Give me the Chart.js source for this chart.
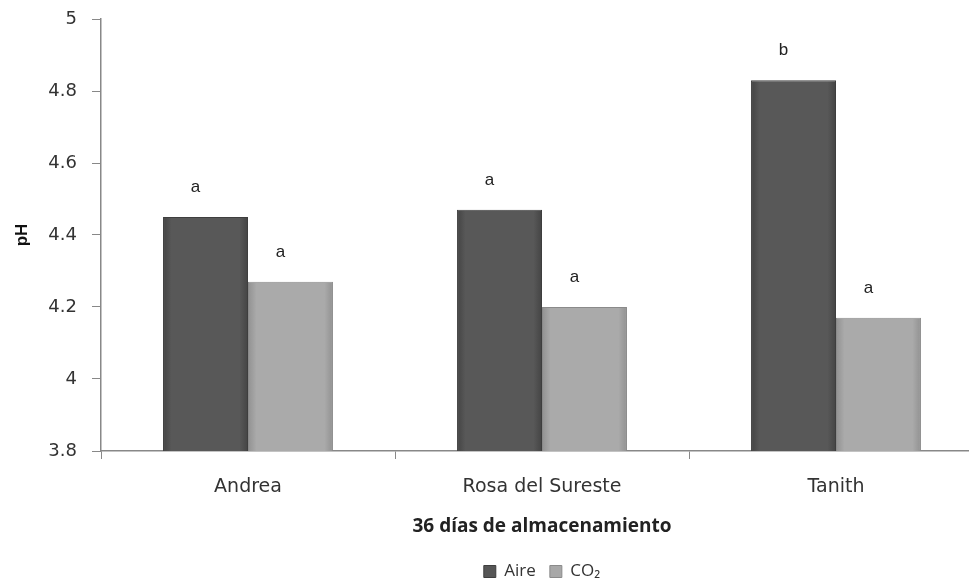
<!DOCTYPE html>
<html>
<head>
<meta charset="utf-8">
<script src="https://cdn.jsdelivr.net/npm/chart.js@4.4.0/dist/chart.umd.min.js"></script>
<style>
  html, body { margin: 0; padding: 0; background: #fff; overflow: hidden; }
  #wrap { position: relative; width: 990px; height: 590px; }
</style>
</head>
<body>
<div id="wrap"><canvas id="phChart"></canvas></div>
<script>
// datos
var variedades = ['Andrea', 'Rosa del Sureste', 'Tanith'];
var phAire = [4.45, 4.47, 4.83];
var phCO2 = [4.27, 4.20, 4.17];
var letrasAire = ['a', 'a', 'b'];
var letrasCO2 = ['a', 'a', 'a'];
var yMin = 3.8, yMax = 5, yPaso = 0.2;

// tonos de cada serie: borde, centro
var tonos = [['#444444', '#585858'], ['#919191', '#aaaaaa']];

// sombreado lateral de las barras (un objeto de opciones por barra)
var sombraPlugin = {
  id: 'sombra',
  beforeDatasetsDraw: function(chart) {
    var ctx = chart.ctx;
    chart.data.datasets.forEach(function(ds, di) {
      chart.getDatasetMeta(di).data.forEach(function(bar) {
        var g = ctx.createLinearGradient(bar.x - bar.width / 2, 0, bar.x + bar.width / 2, 0);
        g.addColorStop(0, tonos[di][0]);
        g.addColorStop(0.1, tonos[di][1]);
        g.addColorStop(0.9, tonos[di][1]);
        g.addColorStop(1, tonos[di][0]);
        bar.options = Object.assign({}, bar.options, { backgroundColor: g });
      });
    });
  }
};

// letras de significancia encima de cada barra
var letrasPlugin = {
  id: 'letras',
  afterDatasetsDraw: function(chart) {
    var ctx = chart.ctx;
    ctx.save();
    ctx.font = '17px "Liberation Sans"';
    ctx.fillStyle = '#222';
    ctx.textAlign = 'center';
    ctx.textBaseline = 'alphabetic';
    [letrasAire, letrasCO2].forEach(function(letras, di) {
      chart.getDatasetMeta(di).data.forEach(function(bar, i) {
        ctx.fillText(letras[i], bar.x - 10, bar.y - 25);
      });
    });
    ctx.restore();
  }
};

Chart.defaults.font.family = '"DejaVu Sans"';
Chart.defaults.color = '#333';

var chart = new Chart('phChart', {
  type: 'bar',
  plugins: [sombraPlugin, letrasPlugin],
  data: {
    labels: variedades,
    datasets: [
      {
        label: 'Aire',
        data: phAire,
        backgroundColor: '#565656',
        borderColor: '#3e3e3e',
        borderWidth: 1,
        categoryPercentage: 0.578,
        barPercentage: 1
      },
      {
        label: 'CO₂',
        data: phCO2,
        backgroundColor: '#a8a8a8',
        borderColor: '#8a8a8a',
        borderWidth: 1,
        categoryPercentage: 0.578,
        barPercentage: 1
      }
    ]
  },
  options: {
    responsive: true,
    maintainAspectRatio: false,
    animation: false,
    layout: { padding: { top: 19, right: 7, left: 0, bottom: 0 } },
    plugins: {
      tooltip: { enabled: false },
      legend: {
        position: 'bottom',
        fullSize: false,
        labels: {
          boxWidth: 12,
          boxHeight: 12,
          padding: 14,
          color: '#333',
          font: { family: '"Open Sans"', size: 17 }
        }
      }
    },
    scales: {
      x: {
        afterFit: function(s) { s.height = 98; },
        grid: {
          display: true,
          drawOnChartArea: false,
          drawTicks: true,
          tickLength: 8,
          color: '#888'
        },
        border: { color: '#888', width: 1.5 },
        ticks: {
          padding: 17,
          font: { size: 19 },
          color: '#333'
        },
        title: {
          display: true,
          text: '36 días de almacenamiento',
          color: '#222',
          font: { family: '"Open Sans"', size: 19, weight: 'bold' },
          padding: { top: 4, bottom: 11 }
        }
      },
      y: {
        min: yMin,
        max: yMax,
        afterFit: function(s) { s.width = 101; s.paddingTop = 0; s.paddingBottom = 0; },
        grid: {
          display: true,
          drawOnChartArea: false,
          drawTicks: true,
          tickLength: 9,
          color: '#888'
        },
        border: { color: '#888', width: 1.5 },
        ticks: {
          stepSize: yPaso,
          padding: 15,
          font: { size: 18 },
          color: '#333',
          callback: function(v) { return String(Math.round(v * 10) / 10); }
        },
        title: {
          display: true,
          text: 'pH',
          color: '#111',
          font: { family: '"Liberation Sans"', size: 17, weight: 'bold' },
          padding: { top: 12, bottom: 0 }
        }
      }
    }
  }
});
</script>
</body>
</html>
